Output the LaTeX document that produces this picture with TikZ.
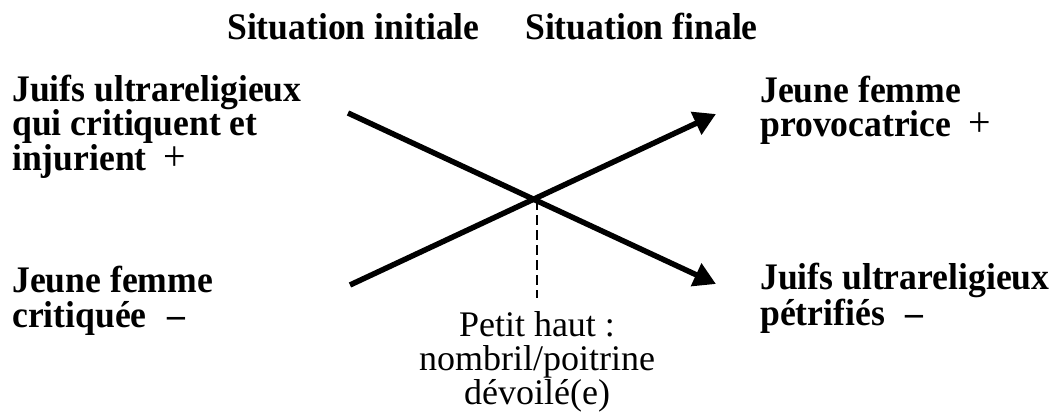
\documentclass[tikz,border=0pt]{standalone}
\usepackage{fontspec}
\setmainfont{Liberation Serif}
\newfontfamily\bfam{Liberation Serif}[FakeStretch=0.95]
\usetikzlibrary{arrows.meta}
\newcommand{\pl}{\hspace{0.45em}\smash{\fontsize{42}{34.5}\selectfont\mdseries +}}
\newcommand{\mn}{\hspace{0.55em}–}
\tikzset{
  lbl/.style={font=\bfam\fontsize{37.5}{34.5}\selectfont\bfseries, align=left, anchor=base west, inner sep=0pt},
  hdr/.style={font=\bfam\fontsize{37.5}{34.5}\selectfont\bfseries, anchor=base west, inner sep=0pt},
  note/.style={font=\fontsize{36}{34}\selectfont, align=center, anchor=base, inner sep=0pt},
  arr/.style={line width=5.5pt, -{Triangle[length=22pt,width=24pt]}},
  guide/.style={line width=1.6pt, dash pattern=on 10pt off 5pt}
}
\begin{document}
\begin{tikzpicture}[x=1pt,y=-1pt]
\useasboundingbox (0,0) rectangle (1057,417);
\node[hdr] (hi) at (227,40) {Situation initiale};
\node[hdr] (hf) at (525,40) {Situation finale};
\node[lbl] (a) at (12,170) {Juifs ultrareligieux\\qui critiquent et\\injurient\pl};
\node[lbl] (b) at (12,327) {Jeune femme\\critiquée\mn};
\node[lbl] (c) at (760,137) {Jeune femme\\provocatrice\pl};
\node[lbl] (d) at (760,325) {Juifs ultrareligieux\\pétrifiés\mn};
\node[note] (n) at (537,404) {Petit haut :\\nombril/poitrine\\dévoilé(e)};
\coordinate (s1) at (348,113);
\coordinate (e1) at (716,284);
\coordinate (s2) at (350,285);
\coordinate (e2) at (716,114);
\coordinate (x) at (537,200);
\coordinate (xb) at (537,298);
\draw[arr] (s1) -- (e1);
\draw[arr] (s2) -- (e2);
\draw[guide] (x) -- (xb);
\end{tikzpicture}
\end{document}
